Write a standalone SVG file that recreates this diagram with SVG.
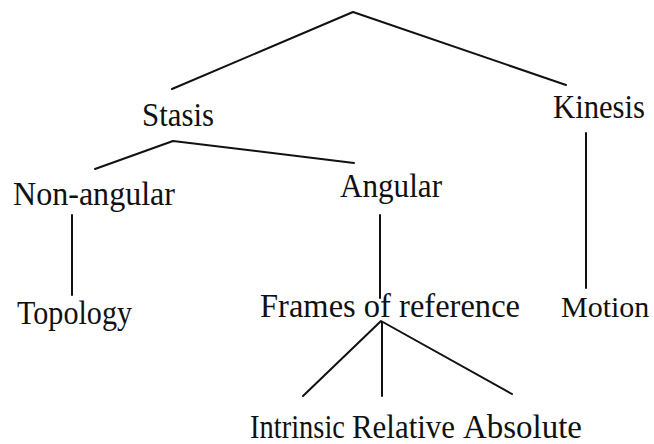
<svg xmlns="http://www.w3.org/2000/svg" width="654" height="444" viewBox="0 0 654 444">
<style>
.lbl{font-family:"Liberation Serif","Times New Roman",serif;font-size:33px;fill:#111}
.sm{font-size:30px}
.edge{stroke:#111;stroke-width:2;fill:none;stroke-linecap:round;stroke-linejoin:round}
</style>
<rect width="654" height="444" fill="#fff"/>
<g id="connectors">
<polyline class="edge" points="172,89 353,12 566,85"/>
<polyline class="edge" points="95,169 173,141 354,163"/>
<line class="edge" x1="72" y1="215" x2="72" y2="295"/>
<line class="edge" x1="380" y1="215" x2="380" y2="298"/>
<line class="edge" x1="586" y1="133" x2="586" y2="288"/>
<polyline class="edge" points="303,396 381,321 512,394"/>
<line class="edge" x1="382" y1="322" x2="382" y2="396"/>
</g>
<g id="stasis"><text class="lbl" x="142" y="126" textLength="72" lengthAdjust="spacingAndGlyphs">Stasis</text></g>
<g id="kinesis"><text class="lbl" x="553" y="118" textLength="92" lengthAdjust="spacingAndGlyphs">Kinesis</text></g>
<g id="non-angular"><text class="lbl" x="13" y="205" textLength="162" lengthAdjust="spacingAndGlyphs">Non-angular</text></g>
<g id="angular"><text class="lbl" x="340" y="197" textLength="102" lengthAdjust="spacingAndGlyphs">Angular</text></g>
<g id="topology"><text class="lbl" x="17" y="324" textLength="115" lengthAdjust="spacingAndGlyphs">Topology</text></g>
<g id="frames"><text class="lbl" x="260" y="317" textLength="260" lengthAdjust="spacingAndGlyphs">Frames of reference</text></g>
<g id="motion"><text class="lbl sm" x="561" y="317">Motion</text></g>
<g id="intrinsic"><text class="lbl" x="250" y="438" textLength="95" lengthAdjust="spacingAndGlyphs">Intrinsic</text></g>
<g id="relative"><text class="lbl" x="352" y="438" textLength="103" lengthAdjust="spacingAndGlyphs">Relative</text></g>
<g id="absolute"><text class="lbl" x="463" y="438" textLength="119" lengthAdjust="spacingAndGlyphs">Absolute</text></g>
</svg>
